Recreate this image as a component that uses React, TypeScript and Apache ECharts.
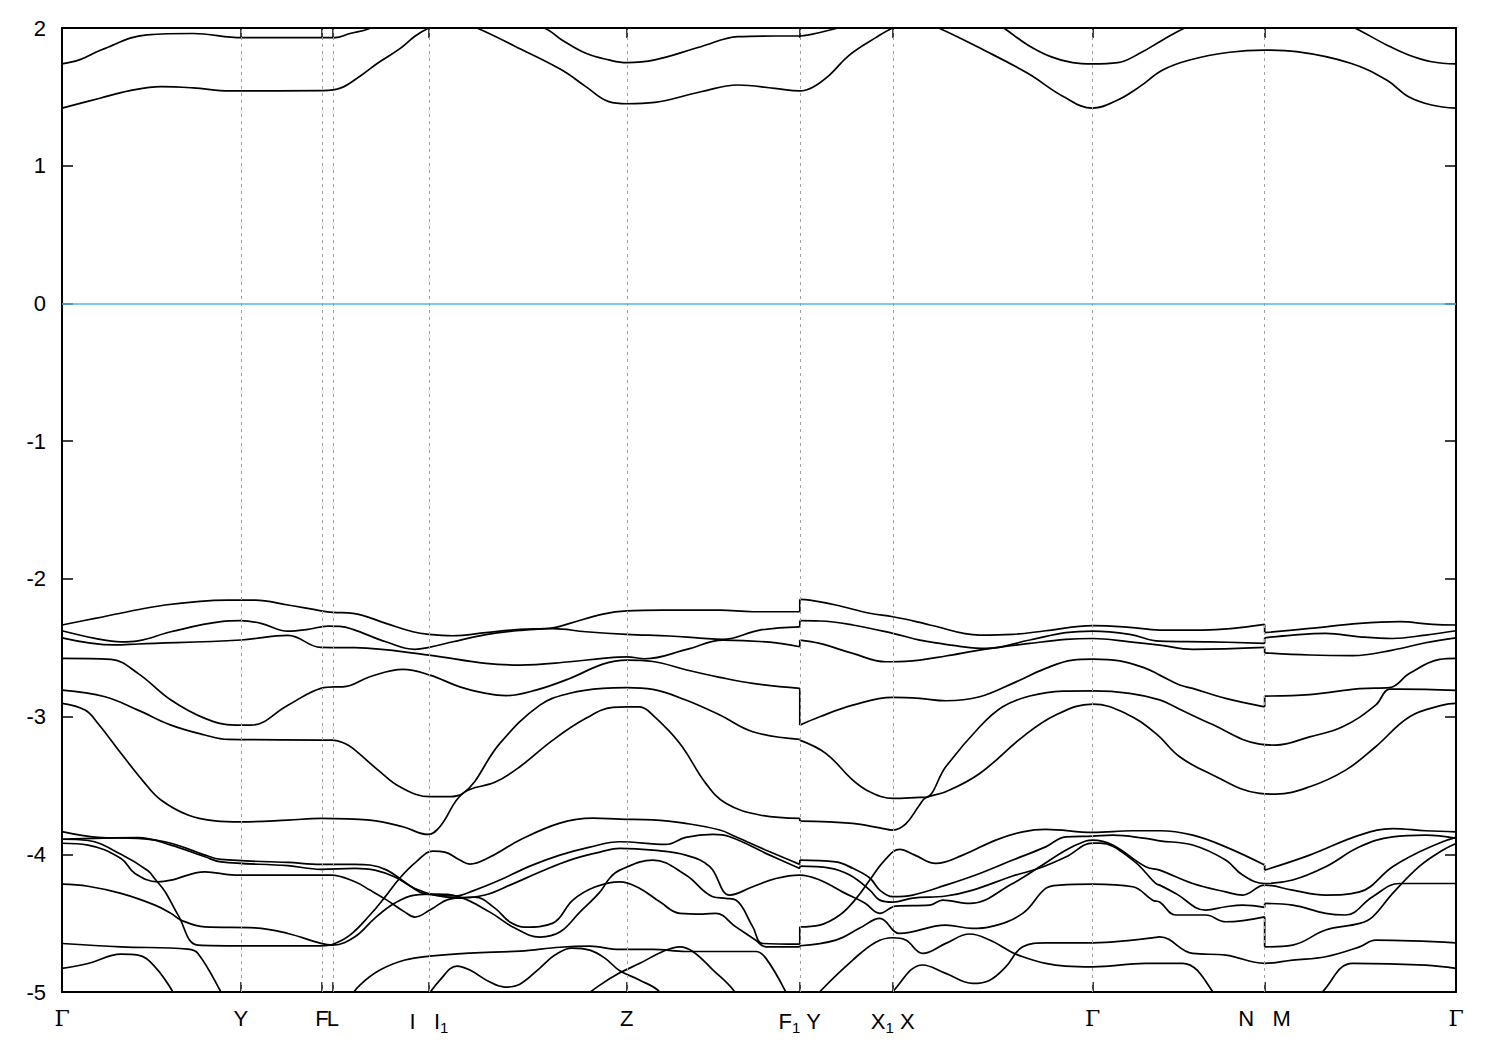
import React, { useEffect, useRef } from "react";
import * as echarts from "echarts";

// k-path positions (arbitrary path units) of the high-symmetry points
const kTicks = [0, 179, 260, 271, 367, 565, 738, 831, 1031, 1203, 1394.4];
const kLabels = ["{g|Γ}", "Y", "F", "L", "I   I{s|1}", "Z", "F{s|1} Y", "X{s|1} X", "{g|Γ}", "N   M", "{g|Γ}"];
const kGrid = [179, 260, 271, 367, 565, 738, 831, 1031, 1203];
const yTicks = [-5, -4, -3, -2, -1, 0, 1, 2];

// conduction bands
const cb1 = [[0,1.418],[38,1.49],[68,1.545],[99,1.574],[131,1.565],[168,1.543],[261,1.545],[279,1.565],[298,1.65],[316,1.746],[338,1.85],[353,1.94],[367,2.0],[390,2.06],[415,2.0],[454,1.864],[500,1.695],[524,1.574],[547,1.465],[565,1.45],[593,1.46],[639,1.537],[676,1.586],[713,1.562],[738,1.543],[751,1.57],[768,1.66],[787,1.8],[814,1.93],[831,2.0],[855,2.06],[877,2.0],[922,1.84],[966,1.671],[1002,1.501],[1031,1.418],[1056,1.477],[1078,1.574],[1101,1.695],[1128,1.768],[1168,1.824],[1203,1.84],[1235,1.828],[1289,1.744],[1325,1.622],[1347,1.501],[1370,1.441],[1394.4,1.418]];
const cb2 = [[0,1.74],[18,1.77],[39,1.84],[85,1.95],[131,1.96],[180,1.93],[261,1.93],[273,1.93],[288,1.96],[307,1.995],[320,2.05],[400,2.15],[482,2.0],[500,1.913],[524,1.816],[547,1.768],[565,1.748],[593,1.768],[639,1.864],[676,1.937],[713,1.942],[738,1.942],[747,1.95],[776,2.0],[800,2.06],[920,2.1],[942,2.0],[966,1.877],[989,1.792],[1011,1.748],[1031,1.739],[1056,1.748],[1078,1.816],[1101,1.913],[1123,2.0],[1150,2.08],[1260,2.1],[1293,2.0],[1325,1.877],[1347,1.804],[1370,1.755],[1394.4,1.739]];

// upper valence bands
const vb1 = [[0,-2.335],[33,-2.287],[68,-2.235],[103,-2.19],[138,-2.163],[166,-2.155],[193,-2.155],[226,-2.19],[259,-2.232],[271,-2.243],[291,-2.25],[324,-2.323],[351,-2.384],[367,-2.403],[391,-2.413],[424,-2.39],[458,-2.367],[491,-2.355],[508,-2.323],[541,-2.256],[565,-2.232],[601,-2.227],[658,-2.227],[691,-2.239],[738,-2.239],[738,-2.149],[748,-2.155],[774,-2.19],[808,-2.25],[831,-2.275],[858,-2.316],[868,-2.335],[918,-2.408],[951,-2.403],[984,-2.377],[1031,-2.34],[1068,-2.352],[1098,-2.372],[1141,-2.372],[1203,-2.331],[1203,-2.391],[1248,-2.36],[1298,-2.323],[1338,-2.311],[1371,-2.331],[1394.4,-2.335]];
const vb2 = [[0,-2.377],[33,-2.432],[59,-2.457],[76,-2.45],[109,-2.384],[159,-2.311],[179,-2.304],[199,-2.323],[226,-2.38],[246,-2.367],[266,-2.343],[278,-2.345],[291,-2.367],[324,-2.457],[353,-2.512],[367,-2.498],[391,-2.457],[424,-2.405],[458,-2.375],[491,-2.362],[524,-2.384],[565,-2.403],[608,-2.415],[638,-2.43],[661,-2.44],[698,-2.372],[738,-2.348],[738,-2.304],[758,-2.306],[791,-2.335],[831,-2.396],[858,-2.445],[868,-2.457],[898,-2.49],[924,-2.505],[968,-2.444],[1004,-2.391],[1031,-2.379],[1068,-2.403],[1098,-2.452],[1148,-2.457],[1203,-2.469],[1203,-2.428],[1231,-2.408],[1264,-2.396],[1298,-2.421],[1331,-2.433],[1364,-2.408],[1394.4,-2.377]];
const vb3 = [[0,-2.428],[53,-2.48],[76,-2.473],[179,-2.444],[226,-2.41],[259,-2.498],[293,-2.5],[367,-2.554],[424,-2.614],[458,-2.626],[508,-2.602],[541,-2.577],[565,-2.566],[583,-2.58],[625,-2.512],[661,-2.445],[708,-2.46],[738,-2.493],[738,-2.445],[758,-2.469],[791,-2.541],[824,-2.602],[831,-2.602],[858,-2.59],[884,-2.56],[924,-2.51],[968,-2.469],[1004,-2.44],[1031,-2.433],[1068,-2.457],[1098,-2.481],[1131,-2.512],[1203,-2.498],[1203,-2.537],[1248,-2.553],[1291,-2.558],[1331,-2.517],[1364,-2.464],[1394.4,-2.428]];
const vb4 = [[0,-2.577],[49,-2.585],[76,-2.686],[109,-2.88],[143,-3.013],[173,-3.062],[189,-3.062],[226,-2.917],[259,-2.795],[273,-2.784],[281,-2.784],[308,-2.711],[341,-2.657],[368,-2.699],[398,-2.784],[424,-2.831],[444,-2.848],[474,-2.808],[508,-2.723],[541,-2.619],[565,-2.59],[591,-2.6],[625,-2.662],[658,-2.715],[691,-2.759],[738,-2.795],[738,-3.062],[758,-3.001],[791,-2.917],[831,-2.861],[858,-2.868],[884,-2.885],[918,-2.856],[951,-2.759],[984,-2.65],[1011,-2.59],[1031,-2.583],[1058,-2.595],[1084,-2.65],[1098,-2.699],[1118,-2.771],[1131,-2.795],[1164,-2.868],[1203,-2.929],[1203,-2.851],[1248,-2.84],[1298,-2.797],[1328,-2.79],[1348,-2.686],[1378,-2.585],[1394.4,-2.577]];
const vb5 = [[0,-2.808],[43,-2.856],[76,-2.953],[109,-3.062],[143,-3.134],[166,-3.166],[271,-3.171],[283,-3.195],[291,-3.231],[318,-3.4],[338,-3.51],[368,-3.582],[384,-3.582],[401,-3.558],[438,-3.195],[478,-2.917],[508,-2.831],[541,-2.795],[565,-2.79],[591,-2.803],[624,-2.88],[658,-2.989],[691,-3.11],[738,-3.166],[738,-3.171],[764,-3.267],[791,-3.461],[808,-3.546],[831,-3.594],[858,-3.587],[864,-3.586],[884,-3.365],[918,-3.074],[941,-2.929],[968,-2.851],[1001,-2.815],[1031,-2.813],[1068,-2.831],[1098,-2.879],[1118,-2.947],[1148,-3.049],[1198,-3.2],[1214,-3.207],[1248,-3.147],[1281,-3.074],[1314,-2.917],[1328,-2.8],[1338,-2.8],[1394.4,-2.81]];
const vb6 = [[0,-2.904],[23,-2.953],[36,-3.05],[59,-3.267],[83,-3.485],[99,-3.606],[126,-3.715],[153,-3.757],[179,-3.764],[226,-3.752],[259,-3.739],[308,-3.752],[341,-3.8],[366,-3.856],[378,-3.8],[401,-3.558],[434,-3.474],[458,-3.364],[491,-3.171],[524,-3.013],[551,-2.933],[565,-2.929],[578,-2.93],[591,-2.99],[618,-3.195],[644,-3.485],[664,-3.63],[698,-3.715],[738,-3.739],[738,-3.759],[791,-3.776],[818,-3.808],[831,-3.824],[844,-3.779],[858,-3.64],[864,-3.59],[884,-3.546],[918,-3.413],[961,-3.147],[994,-2.989],[1031,-2.909],[1064,-2.977],[1094,-3.122],[1118,-3.292],[1148,-3.413],[1198,-3.558],[1214,-3.563],[1248,-3.51],[1284,-3.389],[1314,-3.219],[1348,-3.001],[1381,-2.917],[1394.4,-2.904]];

// lower valence bands
const lowA = [[0,-3.891],[26,-3.9],[59,-4.0],[86,-4.12],[93,-4.18],[103,-4.27],[116,-4.44],[136,-4.66],[179,-4.665],[259,-4.665],[271,-4.653],[288,-4.587],[308,-4.441],[323,-4.311],[338,-4.172],[354,-4.057],[371,-3.977],[383,-3.984],[398,-4.042],[408,-4.071],[428,-4.02],[458,-3.897],[498,-3.774],[531,-3.738],[558,-3.745],[591,-3.75],[624,-3.776],[658,-3.824],[674,-3.873],[708,-3.982],[738,-4.073],[738,-4.042],[774,-4.055],[791,-4.102],[808,-4.172],[818,-4.26],[831,-4.308],[851,-4.296],[884,-4.224],[918,-4.139],[951,-4.042],[984,-3.946],[1004,-3.873],[1031,-3.868],[1051,-3.861],[1084,-3.885],[1098,-3.902],[1131,-3.933],[1164,-4.042],[1181,-4.151],[1203,-4.212],[1231,-4.187],[1264,-4.091],[1298,-3.946],[1331,-3.873],[1364,-3.861],[1394.4,-3.885]];
const lowB = [[0,-3.836],[36,-3.877],[76,-3.885],[109,-3.92],[143,-4.006],[159,-4.037],[226,-4.059],[259,-4.073],[293,-4.073],[308,-4.078],[325,-4.115],[343,-4.202],[358,-4.275],[373,-4.296],[393,-4.303],[413,-4.26],[438,-4.187],[468,-4.086],[498,-4.006],[528,-3.948],[558,-3.909],[604,-3.928],[624,-3.877],[651,-3.856],[668,-3.873],[708,-4.006],[738,-4.103],[738,-4.086],[768,-4.1],[788,-4.151],[808,-4.26],[818,-4.333],[831,-4.347],[851,-4.318],[884,-4.303],[911,-4.26],[951,-4.158],[978,-4.1],[1004,-4.02],[1031,-3.919],[1038,-3.919],[1071,-4.042],[1094,-4.212],[1098,-4.224],[1114,-4.284],[1144,-4.405],[1164,-4.381],[1181,-4.369],[1203,-4.386],[1203,-4.357],[1231,-4.369],[1264,-4.429],[1284,-4.441],[1311,-4.308],[1338,-4.212],[1364,-4.212],[1394.4,-4.212]];
const lowC = [[0,-3.891],[76,-3.879],[109,-3.933],[143,-4.018],[159,-4.055],[226,-4.083],[259,-4.109],[293,-4.102],[313,-4.115],[333,-4.165],[353,-4.248],[373,-4.296],[398,-4.318],[423,-4.296],[448,-4.224],[478,-4.129],[508,-4.042],[538,-3.984],[558,-3.957],[591,-3.97],[624,-4.006],[648,-4.09],[668,-4.296],[691,-4.236],[714,-4.176],[738,-4.151],[758,-4.187],[783,-4.282],[803,-4.354],[818,-4.429],[834,-4.376],[868,-4.369],[881,-4.333],[908,-4.357],[951,-4.212],[978,-4.091],[1004,-3.97],[1024,-3.904],[1031,-3.897],[1051,-3.933],[1084,-4.091],[1098,-4.115],[1131,-4.212],[1164,-4.273],[1181,-4.296],[1203,-4.224],[1231,-4.26],[1264,-4.296],[1298,-4.273],[1331,-4.091],[1358,-3.982],[1381,-3.909],[1394.4,-3.877]];
const lowD = [[0,-3.92],[26,-3.933],[59,-4.03],[73,-4.139],[96,-4.2],[109,-4.188],[143,-4.127],[173,-4.151],[269,-4.151],[293,-4.2],[308,-4.26],[325,-4.333],[343,-4.42],[353,-4.456],[368,-4.405],[388,-4.325],[413,-4.311],[433,-4.391],[448,-4.492],[463,-4.529],[491,-4.5],[511,-4.333],[533,-4.238],[558,-4.2],[578,-4.248],[598,-4.345],[618,-4.429],[641,-4.434],[654,-4.429],[674,-4.527],[694,-4.624],[704,-4.672],[738,-4.672],[738,-4.664],[774,-4.623],[798,-4.536],[818,-4.465],[838,-4.575],[884,-4.514],[911,-4.538],[928,-4.527],[961,-4.429],[984,-4.248],[998,-4.224],[1031,-4.217],[1071,-4.236],[1091,-4.333],[1098,-4.347],[1114,-4.441],[1144,-4.441],[1164,-4.49],[1203,-4.454],[1203,-4.672],[1231,-4.659],[1264,-4.55],[1298,-4.502],[1311,-4.454],[1331,-4.284],[1358,-4.086],[1381,-3.97],[1394.4,-3.921]];
const lowE = [[0,-4.217],[26,-4.232],[59,-4.284],[93,-4.369],[109,-4.429],[119,-4.478],[143,-4.527],[193,-4.534],[226,-4.575],[259,-4.647],[271,-4.659],[293,-4.599],[313,-4.463],[333,-4.354],[353,-4.296],[373,-4.289],[398,-4.311],[428,-4.42],[453,-4.536],[478,-4.601],[498,-4.565],[518,-4.42],[538,-4.275],[548,-4.172],[558,-4.115],[591,-4.042],[624,-4.151],[651,-4.308],[664,-4.32],[674,-4.332],[691,-4.527],[701,-4.648],[738,-4.653],[738,-4.527],[758,-4.514],[778,-4.441],[793,-4.333],[808,-4.187],[823,-4.042],[838,-3.964],[853,-4.006],[874,-4.066],[901,-4.006],[934,-3.897],[961,-3.837],[984,-3.819],[1031,-3.841],[1071,-3.829],[1098,-3.829],[1131,-3.861],[1164,-3.946],[1203,-4.078],[1203,-4.115],[1248,-4.006],[1298,-3.861],[1331,-3.813],[1364,-3.829],[1394.4,-3.837]];
const lowF = [[0,-4.648],[59,-4.672],[126,-4.689],[136,-4.72],[159,-5.0],[165,-5.1]];
const lowG = [[0,-4.829],[26,-4.793],[59,-4.725],[76,-4.732],[93,-4.817],[111,-5.0],[116,-5.1]];
const lowH = [[286,-5.059],[298,-4.95],[318,-4.841],[343,-4.768],[368,-4.739],[408,-4.717],[458,-4.703],[498,-4.675],[528,-4.667],[558,-4.691],[591,-4.69],[624,-4.706],[694,-4.706],[704,-4.754],[724,-5.0],[728,-5.1]];
const lowI = [[363,-5.059],[378,-4.914],[395,-4.812],[408,-4.841],[428,-4.928],[443,-4.964],[458,-4.943],[478,-4.826],[493,-4.732],[510,-4.681],[528,-4.696],[543,-4.754],[558,-4.846],[578,-4.914],[598,-5.0],[602,-5.1]];
const lowJ = [[518,-5.059],[538,-4.95],[558,-4.861],[578,-4.792],[601,-4.706],[618,-4.672],[631,-4.706],[651,-4.839],[673,-5.0],[677,-5.1]];
const lowK = [[753,-5.059],[758,-4.998],[791,-4.768],[814,-4.638],[831,-4.606],[844,-4.623],[861,-4.72],[884,-4.647],[908,-4.579],[928,-4.623],[951,-4.715],[961,-4.744],[984,-4.792],[1004,-4.812],[1031,-4.817],[1084,-4.792],[1098,-4.792],[1121,-4.792],[1151,-4.998],[1154,-5.1]];
const lowL = [[828,-5.059],[831,-4.998],[861,-4.804],[884,-4.865],[911,-4.938],[928,-4.914],[944,-4.817],[961,-4.672],[984,-4.643],[1031,-4.643],[1071,-4.623],[1094,-4.603],[1098,-4.599],[1131,-4.72],[1164,-4.732],[1203,-4.792],[1231,-4.768],[1264,-4.744],[1298,-4.672],[1314,-4.623],[1394.4,-4.643]];
const lowM = [[1256,-5.059],[1261,-4.998],[1291,-4.792],[1364,-4.805],[1394.4,-4.829]];

const bands = [cb1, cb2, vb1, vb2, vb3, vb4, vb5, vb6, lowA, lowB, lowC, lowD, lowE, lowF, lowG, lowH, lowI, lowJ, lowK, lowL, lowM];

const FONT = "Liberation Sans";

function labelFor(v: number): string {
  let best = 0;
  let d = Infinity;
  kTicks.forEach((k, i) => {
    const dd = Math.abs(k - v);
    if (dd < d) { d = dd; best = i; }
  });
  return kLabels[best];
}

// split a band at the path discontinuities (two points with the same k):
// smooth pieces in between, and a straight vertical segment for each jump
function splitBand(b: number[][]) {
  const parts: number[][][] = [];
  const jumps: number[][][] = [];
  let cur: number[][] = [b[0]];
  for (let i = 1; i < b.length; i++) {
    if (b[i][0] === b[i - 1][0]) {
      parts.push(cur);
      jumps.push([b[i - 1], b[i]]);
      cur = [b[i]];
    } else {
      cur.push(b[i]);
    }
  }
  parts.push(cur);
  return { parts, jumps };
}

export default function App() {
  const ref = useRef<HTMLDivElement>(null);
  useEffect(() => {
    const chart = echarts.init(ref.current!, null, { renderer: "svg" });
    const axisLineStyle = { color: "#000", width: 2 };
    const lineStyle = { color: "#000", width: 1.7 };
    const series: any[] = [];
    bands.forEach((b) => {
      const { parts, jumps } = splitBand(b);
      parts.forEach((p) =>
        series.push({ type: "line", data: p, showSymbol: false, symbol: "none", clip: true, silent: true, smooth: 0.4, lineStyle, z: 3 })
      );
      jumps.forEach((j) =>
        series.push({ type: "line", data: j, showSymbol: false, symbol: "none", clip: true, silent: true, smooth: false, lineStyle, z: 3 })
      );
    });
    series.push({
      type: "line",
      data: [],
      silent: true,
      z: 1,
      markLine: {
        silent: true,
        symbol: "none",
        label: { show: false },
        animation: false,
        data: kGrid
          .map((k) => ({ xAxis: k, lineStyle: { color: "#a0a0a0", width: 1, type: [3, 4] } }))
          .concat([{ yAxis: 0, lineStyle: { color: "#56b4e9", width: 1.5, type: "solid" } } as any]),
      },
    });
    chart.setOption({
      animation: false,
      backgroundColor: "#fff",
      grid: { left: 54, top: 20, width: 1394, height: 964, containLabel: false },
      xAxis: [
        {
          type: "value",
          min: 0,
          max: 1394.4,
          position: "bottom",
          axisLine: { show: true, onZero: false, lineStyle: axisLineStyle },
          axisTick: { show: true, inside: true, length: 10, customValues: kTicks, lineStyle: { color: "#000", width: 1.5 } },
          axisLabel: {
            show: true,
            customValues: kTicks,
            margin: 15,
            color: "#000",
            fontFamily: FONT,
            fontSize: 22,
            formatter: (v: number) => labelFor(v),
            rich: {
              g: { fontFamily: "DejaVu Serif", fontSize: 22, color: "#000" },
              s: { fontFamily: FONT, fontSize: 15, color: "#000", verticalAlign: "bottom", padding: [13, 0, 0, 0] },
            },
          },
          splitLine: { show: false },
          minorTick: { show: false },
        },
        {
          type: "value",
          min: 0,
          max: 1394.4,
          position: "top",
          axisLine: { show: true, onZero: false, lineStyle: axisLineStyle },
          axisTick: { show: true, inside: true, length: 10, customValues: kTicks, lineStyle: { color: "#000", width: 1.5 } },
          axisLabel: { show: false },
          splitLine: { show: false },
        },
      ],
      yAxis: [
        {
          type: "value",
          min: -5,
          max: 2,
          interval: 1,
          position: "left",
          axisLine: { show: true, onZero: false, lineStyle: axisLineStyle },
          axisTick: { show: true, inside: true, length: 11, lineStyle: { color: "#000", width: 1.5 } },
          axisLabel: { show: true, margin: 16, color: "#000", fontFamily: FONT, fontSize: 22, customValues: yTicks },
          splitLine: { show: false },
        },
        {
          type: "value",
          min: -5,
          max: 2,
          interval: 1,
          position: "right",
          axisLine: { show: true, onZero: false, lineStyle: axisLineStyle },
          axisTick: { show: true, inside: true, length: 11, lineStyle: { color: "#000", width: 1.5 } },
          axisLabel: { show: false },
          splitLine: { show: false },
        },
      ],
      series,
    });
    return () => chart.dispose();
  }, []);
  return <div ref={ref} style={{ width: 1484, height: 1034 }} />;
}
